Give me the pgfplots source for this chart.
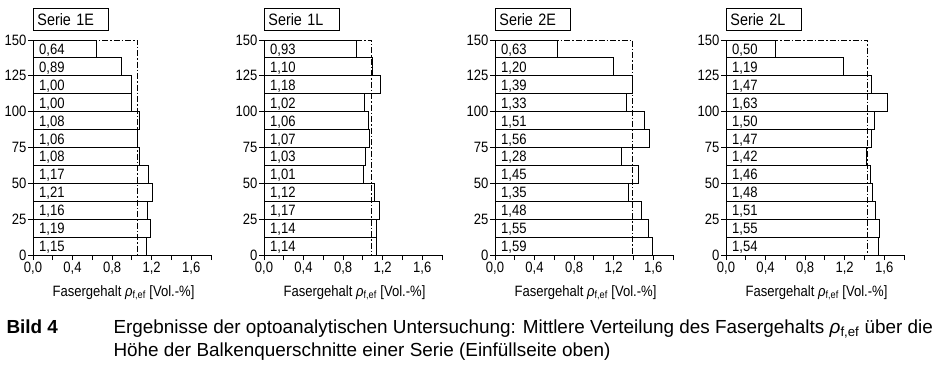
\documentclass[border=0pt]{standalone}
\usepackage{fontspec}
\setmainfont{Liberation Sans}[FakeStretch=0.87]
\newfontfamily\capfont{Liberation Sans}
\usepackage{pgfplots}
\pgfplotsset{compat=1.18}
\usepackage{pgfplotstable}

\pgfplotstableread{
y v lab
143.75 0.64 0,64
131.25 0.89 0,89
118.75 1.00 1,00
106.25 1.00 1,00
93.75 1.08 1,08
81.25 1.06 1,06
68.75 1.08 1,08
56.25 1.17 1,17
43.75 1.21 1,21
31.25 1.16 1,16
18.75 1.19 1,19
6.25 1.15 1,15
}\dataA
\pgfplotstableread{
y v lab
143.75 0.93 0,93
131.25 1.10 1,10
118.75 1.18 1,18
106.25 1.02 1,02
93.75 1.06 1,06
81.25 1.07 1,07
68.75 1.03 1,03
56.25 1.01 1,01
43.75 1.12 1,12
31.25 1.17 1,17
18.75 1.14 1,14
6.25 1.14 1,14
}\dataB
\pgfplotstableread{
y v lab
143.75 0.63 0,63
131.25 1.20 1,20
118.75 1.39 1,39
106.25 1.33 1,33
93.75 1.51 1,51
81.25 1.56 1,56
68.75 1.28 1,28
56.25 1.45 1,45
43.75 1.35 1,35
31.25 1.48 1,48
18.75 1.55 1,55
6.25 1.59 1,59
}\dataC
\pgfplotstableread{
y v lab
143.75 0.50 0,50
131.25 1.19 1,19
118.75 1.47 1,47
106.25 1.63 1,63
93.75 1.50 1,50
81.25 1.47 1,47
68.75 1.42 1,42
56.25 1.46 1,46
43.75 1.48 1,48
31.25 1.51 1,51
18.75 1.55 1,55
6.25 1.54 1,54
}\dataD

\newcommand\fs{\fontsize{15}{17}\selectfont}
\newcommand\rhofef{{\itshape ρ}\textsubscript{f,ef}}

\pgfplotsset{panel/.style={
  scale only axis, width=178pt, height=215pt, anchor=south west,
  xmin=0, xmax=1.8, ymin=0, ymax=150,
  axis x line*=bottom, axis y line*=left,
  axis line style={line width=0.9pt},
  tick align=outside, tick style={black, line width=0.9pt},
  major tick length=5pt, minor tick length=5pt,
  xtick={0,0.4,0.8,1.2,1.6}, minor xtick={0.2,0.6,1.0,1.4,1.8},
  ytick={0,25,...,150},
  xticklabel style={/pgf/number format/fixed, /pgf/number format/fixed zerofill, /pgf/number format/precision=1, /pgf/number format/use comma},
  /pgf/number format/assume math mode=true,
  tick label style={font=\fs, inner sep=1.5pt},
  clip=false,
}}

\newcommand\panel[4]{%
  \begin{axis}[panel, at={(#1pt,115pt)}]
    \addplot[xbar, bar width=12.5, fill=white, draw=black, line width=0.9pt] table[x=v,y=y]{#3};
    \addplot[draw=none, nodes near coords, point meta=explicit symbolic,
      every node near coord/.append style={font=\fs, inner sep=0pt, anchor=base west, yshift=-5.5pt}]
      table[x expr=0.06, y=y, meta=lab]{#3};
    \addplot[black, line width=0.9pt, dash pattern=on 6pt off 2pt on 1.5pt off 2pt] coordinates {(0,150) (#4,150) (#4,0)};
  \end{axis}
  \node[draw, line width=0.9pt, anchor=south west, minimum height=22pt, text width=67pt, inner xsep=4pt, font=\fontsize{16.5}{18}\selectfont] at (#1pt,339pt) {#2};
  \node[anchor=base, font=\fontsize{15}{16}\selectfont] at ({(#1+90.5)*1pt},74pt) {Fasergehalt \rhofef\ [Vol.-\%]};
}

\begin{document}
\begin{tikzpicture}
\useasboundingbox (0,0) rectangle (939pt,370pt);
\panel{33}{Serie 1E}{\dataA}{1.06}
\panel{264}{Serie 1L}{\dataB}{1.09}
\panel{495}{Serie 2E}{\dataC}{1.39}
\panel{726}{Serie 2L}{\dataD}{1.435}
\node[anchor=base west, font=\fontsize{18.9}{22}\capfont\bfseries] at (3pt,37pt) {Bild 4};
\node[anchor=base west, font=\fontsize{18.9}{22}\capfont] at (110pt,37pt) {Ergebnisse der optoanalytischen Untersuchung: Mittlere Verteilung des Fasergehalts \rhofef\ über die};
\node[anchor=base west, font=\fontsize{18.9}{22}\capfont] at (110pt,14pt) {Höhe der Balkenquerschnitte einer Serie (Einfüllseite oben)};
\end{tikzpicture}
\end{document}
